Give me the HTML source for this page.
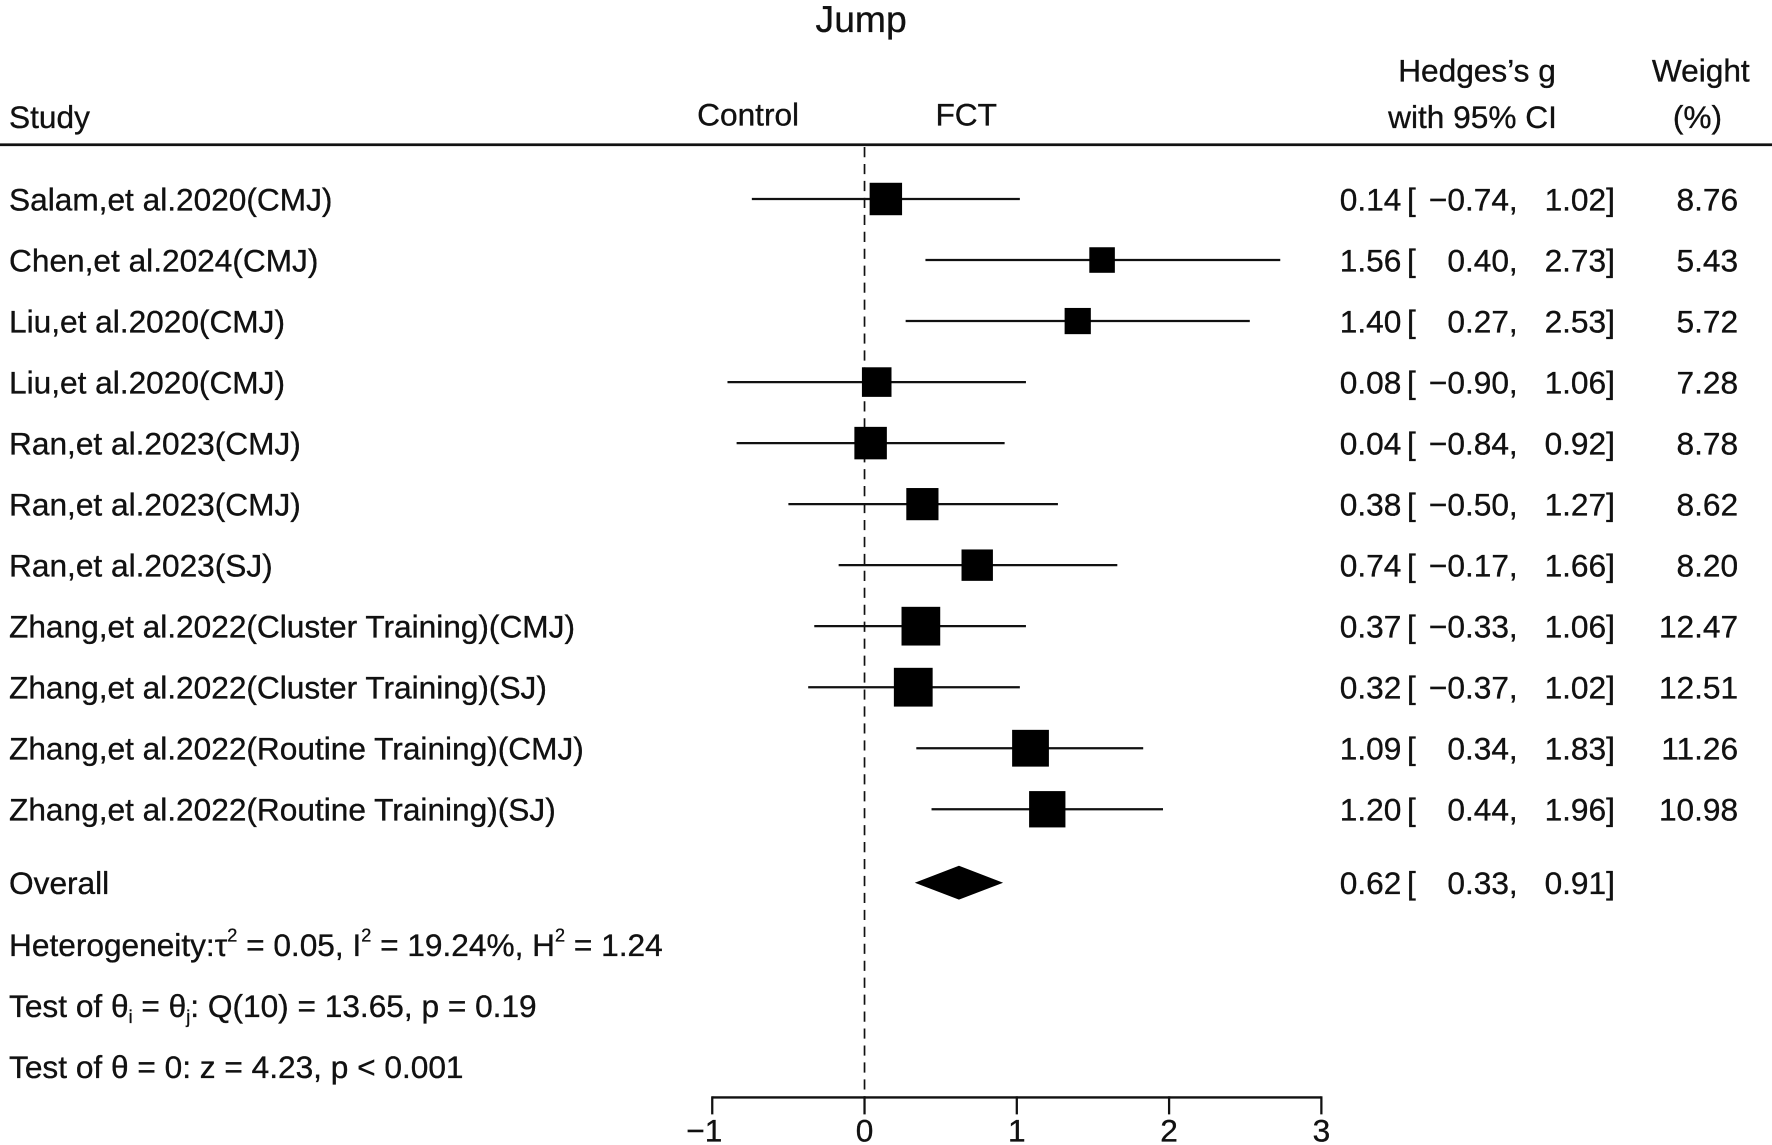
<!DOCTYPE html>
<html><head><meta charset="utf-8"><style>
html,body{margin:0;padding:0;background:#fff;}
svg{display:block;font-family:"Liberation Sans",sans-serif;}
text{fill:#111;stroke:#111;stroke-width:0.3;}
</style></head><body>
<svg id="chart" width="1772" height="1145" viewBox="0 0 1568 1013" xmlns="http://www.w3.org/2000/svg">
<text x="762" y="28" font-size="33" text-anchor="middle">Jump</text>
<text x="8" y="113" font-size="28">Study</text>
<text x="662" y="111" font-size="28" text-anchor="middle">Control</text>
<text x="855" y="111" font-size="28" text-anchor="middle">FCT</text>
<text x="1307" y="72" font-size="28" text-anchor="middle">Hedges’s g</text>
<text x="1303" y="113" font-size="28" text-anchor="middle">with 95% CI</text>
<text x="1505" y="72" font-size="28" text-anchor="middle">Weight</text>
<text x="1502" y="113" font-size="28" text-anchor="middle">(%)</text>
<line x1="0" y1="128" x2="1568" y2="128" stroke="#111" stroke-width="2.5"/>
<g id="marks"></g>
<text x="8" y="846" font-size="28">Heterogeneity:τ<tspan font-size="16" dy="-13">2</tspan><tspan dy="13"> = 0.05, I</tspan><tspan font-size="16" dy="-13">2</tspan><tspan dy="13"> = 19.24%, H</tspan><tspan font-size="16" dy="-13">2</tspan><tspan dy="13"> = 1.24</tspan></text>
<text x="8" y="900" font-size="28">Test of θ<tspan font-size="16" dy="5">i</tspan><tspan dy="-5"> = θ</tspan><tspan font-size="16" dy="5">j</tspan><tspan dy="-5">: Q(10) = 13.65, p = 0.19</tspan></text>
<text x="8" y="954" font-size="28">Test of θ = 0: z = 4.23, p &lt; 0.001</text>
</svg>
<script>
const studies = ["Salam,et al.2020(CMJ)","Chen,et al.2024(CMJ)","Liu,et al.2020(CMJ)","Liu,et al.2020(CMJ)","Ran,et al.2023(CMJ)","Ran,et al.2023(CMJ)","Ran,et al.2023(SJ)","Zhang,et al.2022(Cluster Training)(CMJ)","Zhang,et al.2022(Cluster Training)(SJ)","Zhang,et al.2022(Routine Training)(CMJ)","Zhang,et al.2022(Routine Training)(SJ)"];
const effects = [0.14,1.56,1.40,0.08,0.04,0.38,0.74,0.37,0.32,1.09,1.20];
const lowers = [-0.74,0.40,0.27,-0.90,-0.84,-0.50,-0.17,-0.33,-0.37,0.34,0.44];
const uppers = [1.02,2.73,2.53,1.06,0.92,1.27,1.66,1.06,1.02,1.83,1.96];
const weights = [8.76,5.43,5.72,7.28,8.78,8.62,8.20,12.47,12.51,11.26,10.98];
const overall = [0.62,0.33,0.91];
const ticks = [-1,0,1,2,3];

const NS="http://www.w3.org/2000/svg";
const g=document.getElementById('marks');
const xs=v=>765+v*134.75;
const ys=i=>176+i*54;
function mk(t,a){const e=document.createElementNS(NS,t);for(const k in a)e.setAttribute(k,a[k]);g.appendChild(e);return e;}
const fmt=v=>(v<0?"\u2212":"")+Math.abs(v).toFixed(2);
const FS=28;

const zl=mk('line',{x1:xs(0),y1:130,x2:xs(0),y2:971,stroke:'#111','stroke-width':1.5,'stroke-dasharray':'9,6'});



studies.forEach((s,i)=>{
  const y=ys(i);
  const t=mk('text',{x:8,y:y+10,'font-size':FS});t.textContent=s;
  
  
  const l=mk('line',{x1:xs(lowers[i]),y1:y,x2:xs(uppers[i]),y2:y,stroke:'#111','stroke-width':2});
  
  
  const sz=9.7*Math.sqrt(weights[i]);
  const r=mk('rect',{x:xs(effects[i])-sz/2,y:y-sz/2,width:sz,height:sz,fill:'#000'});
  
  
  const e1=mk('text',{x:1240,y:y+10,'font-size':FS,'text-anchor':'end'});e1.textContent=fmt(effects[i]);
  
  
  const b=mk('text',{x:1245,y:y+10,'font-size':FS});b.textContent='[';
  
  
  const lo=mk('text',{x:1343,y:y+10,'font-size':FS,'text-anchor':'end'});lo.textContent=fmt(lowers[i])+',';
  
  
  const up=mk('text',{x:1429,y:y+10,'font-size':FS,'text-anchor':'end'});up.textContent=fmt(uppers[i])+']';
  
  
  const w=mk('text',{x:1538,y:y+10,'font-size':FS,'text-anchor':'end'});w.textContent=weights[i].toFixed(2);
  
  
});

const oy=781;
const ot=mk('text',{x:8,y:oy+10,'font-size':FS});ot.textContent='Overall';


const d=mk('polygon',{points:`${xs(overall[1])},${oy} ${xs(overall[0])},${oy-15} ${xs(overall[2])},${oy} ${xs(overall[0])},${oy+15}`,fill:'#000'});


const oe=mk('text',{x:1240,y:oy+10,'font-size':FS,'text-anchor':'end'});oe.textContent=fmt(overall[0]);


const ob=mk('text',{x:1245,y:oy+10,'font-size':FS});ob.textContent='[';


const ol=mk('text',{x:1343,y:oy+10,'font-size':FS,'text-anchor':'end'});ol.textContent=fmt(overall[1])+',';


const ou=mk('text',{x:1429,y:oy+10,'font-size':FS,'text-anchor':'end'});ou.textContent=fmt(overall[2])+']';



const ax=mk('line',{x1:xs(ticks[0]),y1:971,x2:xs(ticks[ticks.length-1]),y2:971,stroke:'#111','stroke-width':2});


ticks.forEach(v=>{
  const tk=mk('line',{x1:xs(v),y1:970,x2:xs(v),y2:986,stroke:'#111','stroke-width':2});
  
  
  const tl=mk('text',{x:xs(v)-(v<0?7:0),y:1010,'font-size':FS,'text-anchor':'middle'});tl.textContent=(v<0?"\u2212":"")+Math.abs(v);
  
  
});
</script>
</body></html>
